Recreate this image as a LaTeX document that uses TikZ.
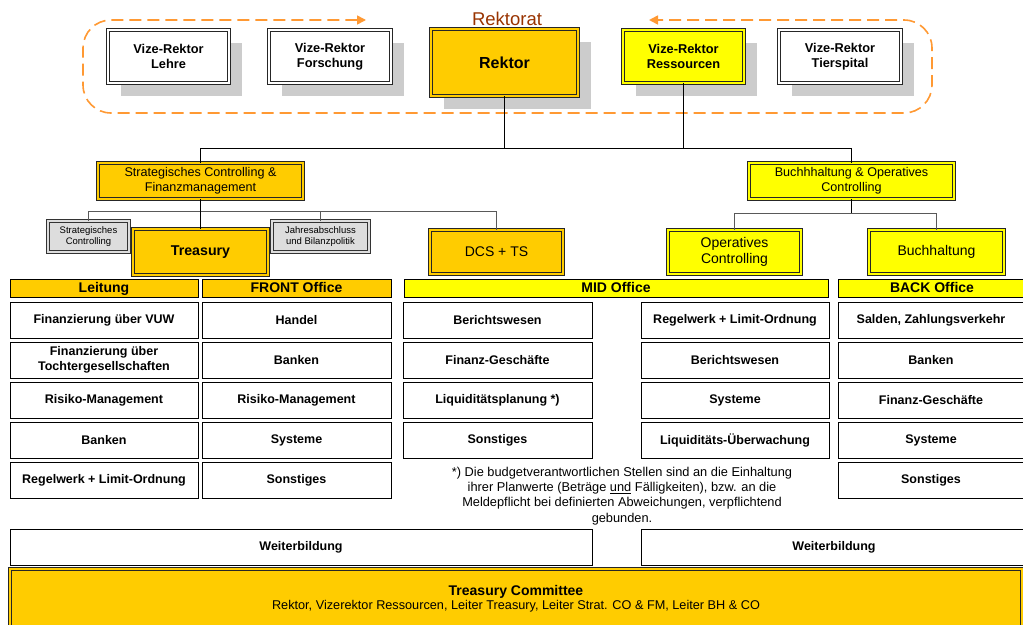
\documentclass[tikz,border=0pt]{standalone}
\usepackage{fontspec}
\setmainfont{Liberation Sans}
\usetikzlibrary{arrows.meta,shadows}
\definecolor{gold}{HTML}{FFCC00}
\definecolor{yel}{HTML}{FFFF00}
\definecolor{shade}{HTML}{CCCCCC}
\definecolor{lgray}{HTML}{DDDDDD}
\definecolor{orng}{HTML}{FF9933}
\definecolor{brn}{HTML}{993300}
\begin{document}
\begin{tikzpicture}[x=1pt,y=-1pt,
  base/.style={rectangle, inner sep=1pt, outer sep=0pt, anchor=north west, align=center, text=black},
  dbox/.style={base, draw=black!85, line width=1pt, double distance=2pt},
  wbox/.style={dbox, double=white, fill=white},
  gbox/.style={dbox, double=gold, fill=gold},
  ybox/.style={dbox, double=yel, fill=yel},
  sbox/.style={dbox, draw=black!80, double=lgray, fill=lgray, line width=1.1pt, double distance=1.6pt},
  topsh/.style={drop shadow={shadow xshift=13pt, shadow yshift=-13pt, fill=shade, opacity=1}},
  smallsh/.style={drop shadow={shadow xshift=1.2pt, shadow yshift=-1.2pt, fill=black!45, opacity=1}},
  ftop/.style={font=\fontsize{12.8}{15.2}\selectfont\bfseries},
  fmid/.style={font=\fontsize{12.6}{15}\selectfont},
  fbig/.style={font=\fontsize{14}{16.5}\selectfont},
  fsmall/.style={font=\fontsize{9.5}{11.5}\selectfont},
  cell/.style={base, draw=black, line width=1pt, fill=white, smallsh, minimum height=36pt, font=\fontsize{12.5}{15}\selectfont\bfseries},
  head/.style={base, draw=black, line width=1pt, smallsh, minimum height=18pt, text height=9.5pt, text depth=0.5pt, font=\fontsize{14}{16}\selectfont\bfseries},
  conn/.style={draw=black, line width=1pt},
  gconn/.style={draw=black!65, line width=1pt},
  loop/.style={draw=orng, line width=1.6pt, dash pattern=on 12pt off 6pt, rounded corners=28pt}
]
\useasboundingbox (0,0) rectangle (1023,624);
\clip (0,0) rectangle (1023,624);
\fill[white] (0,0) rectangle (1023,624);

% Rektorat loop
\draw[loop, {Triangle[length=9pt,width=9pt]}-{Triangle[length=9pt,width=9pt]}]
  (366,20) -- (83,20) -- (83,113) -- (932,113) -- (932,20) -- (649,20);
\node[font=\fontsize{18.5}{20}\selectfont, text=brn] (rektorat) at (507,19) {Rektorat};

% top row
\node[wbox,topsh,ftop,minimum width=121pt,minimum height=53pt] (vrl) at (108,30) {Vize-Rektor\\Lehre};
\node[wbox,topsh,ftop,minimum width=122pt,minimum height=53pt] (vrf) at (269,30) {Vize-Rektor\\Forschung};
\node[gbox,topsh,font=\fontsize{16}{18}\selectfont\bfseries,minimum width=147pt,minimum height=67pt] (rek) at (431,29) {Rektor};
\node[ybox,topsh,ftop,minimum width=121pt,minimum height=53pt] (vrr) at (623,30) {Vize-Rektor\\Ressourcen};
\node[wbox,topsh,ftop,minimum width=122pt,minimum height=53pt] (vrt) at (779,30) {Vize-Rektor\\Tierspital};

% level 2
\node[gbox,fmid,minimum width=205pt,minimum height=36pt] (scf) at (98,163) {Strategisches Controlling \&\\Finanzmanagement};
\node[ybox,fmid,minimum width=205pt,minimum height=36pt] (bhoc) at (749,163) {Buchhhaltung \& Operatives\\Controlling};

% level 3
\node[sbox,fsmall,minimum width=81pt,minimum height=31pt] (stc) at (48,221) {Strategisches\\Controlling};
\node[gbox,font=\fontsize{14.2}{16}\selectfont\bfseries,minimum width=135pt,minimum height=46pt] (tre) at (133,229) {Treasury};
\node[sbox,fsmall,minimum width=97pt,minimum height=31pt] (jah) at (272,221) {Jahresabschluss\\und Bilanzpolitik};
\node[gbox,fbig,minimum width=133pt,minimum height=44pt] (dcs) at (430,230) {DCS + TS};
\node[ybox,fbig,minimum width=133pt,minimum height=44pt] (opc) at (668,230) {Operatives\\Controlling};
\node[ybox,fbig,minimum width=135pt,minimum height=44pt] (bh) at (869,230) {Buchhaltung};

% connectors
\coordinate (b1) at (504.5,148.5);
\coordinate (b3) at (851.5,213.5);
\draw[conn] (rek.south) -- (b1);
\draw[conn] (vrr.south) -- (vrr.south |- b1);
\draw[conn] (scf.north) -- (scf.north |- b1) -| (bhoc.north);
\draw[gconn] (stc.north) -- ++(0,-9.5) -| (dcs.north);
\draw[gconn] (jah.north) -- ++(0,-9.5);
\draw[conn] (scf.south) -- (tre.north);
\draw[conn] (bhoc.south) -- (b3);
\draw[gconn] (opc.north) |- (b3) -| (bh.north);

% headers
\node[head,fill=gold,minimum width=188pt] (hl) at (10,279) {Leitung};
\node[head,fill=gold,minimum width=189pt] (hf) at (202,279) {FRONT Office};
\node[head,fill=yel,minimum width=424pt] (hm) at (404,279) {MID Office};
\node[head,fill=yel,minimum width=188pt] (hb) at (838,279) {BACK Office};

% Leitung column
\node[cell,minimum width=188pt] (l1) at (10,302) {Finanzierung über VUW};
\node[cell,minimum width=188pt] (l2) at (10,342) {Finanzierung über\\Tochtergesellschaften};
\node[cell,minimum width=188pt] (l3) at (10,382) {Risiko-Management};
\node[cell,minimum width=188pt] (l4) at (10,422) {Banken};
\node[cell,minimum width=188pt] (l5) at (10,462) {Regelwerk + Limit-Ordnung};
% FRONT column
\node[cell,minimum width=189pt] (f1) at (202,302) {Handel};
\node[cell,minimum width=189pt] (f2) at (202,342) {Banken};
\node[cell,minimum width=189pt] (f3) at (202,382) {Risiko-Management};
\node[cell,minimum width=189pt] (f4) at (202,422) {Systeme};
\node[cell,minimum width=189pt] (f5) at (202,462) {Sonstiges};
% MID left
\node[cell,minimum width=189pt] (m1) at (403,302) {Berichtswesen};
\node[cell,minimum width=189pt] (m2) at (403,342) {Finanz-Geschäfte};
\node[cell,minimum width=189pt] (m3) at (403,382) {Liquiditätsplanung *)};
\node[cell,minimum width=189pt] (m4) at (403,422) {Sonstiges};
% MID right
\node[cell,minimum width=188pt] (n1) at (641,302) {Regelwerk + Limit-Ordnung};
\node[cell,minimum width=188pt] (n2) at (641,342) {Berichtswesen};
\node[cell,minimum width=188pt] (n3) at (641,382) {Systeme};
\node[cell,minimum width=188pt] (n4) at (641,422) {Liquiditäts-Überwachung};
% BACK
\node[cell,minimum width=186pt] (k1) at (838,302) {Salden, Zahlungsverkehr};
\node[cell,minimum width=186pt] (k2) at (838,342) {Banken};
\node[cell,minimum width=186pt] (k3) at (838,382) {Finanz-Geschäfte};
\node[cell,minimum width=186pt] (k4) at (838,422) {Systeme};
\node[cell,minimum width=186pt] (k5) at (838,462) {Sonstiges};

% footnote
\node[align=center, anchor=north, inner sep=0pt, font=\fontsize{12.8}{15.2}\selectfont] (fn) at (622,467)
 {*) Die budgetverantwortlichen Stellen sind an die Einhaltung\\
  ihrer Planwerte (Beträge \underline{und} Fälligkeiten), bzw. an die\\
  Meldepflicht bei definierten Abweichungen, verpflichtend\\
  gebunden.};

% Weiterbildung
\node[cell,minimum width=582pt] (w1) at (10,529) {Weiterbildung};
\node[cell,minimum width=386pt] (w2) at (641,529) {Weiterbildung};

% Treasury Committee
\node[gbox,minimum width=1012pt,minimum height=60pt] (tc) at (10,569)
 {{\fontsize{14}{16}\selectfont\bfseries Treasury Committee}\\[1pt]
  {\fontsize{12.7}{14}\selectfont Rektor, Vizerektor Ressourcen, Leiter Treasury, Leiter Strat. CO \& FM, Leiter BH \& CO}};
\end{tikzpicture}
\end{document}
